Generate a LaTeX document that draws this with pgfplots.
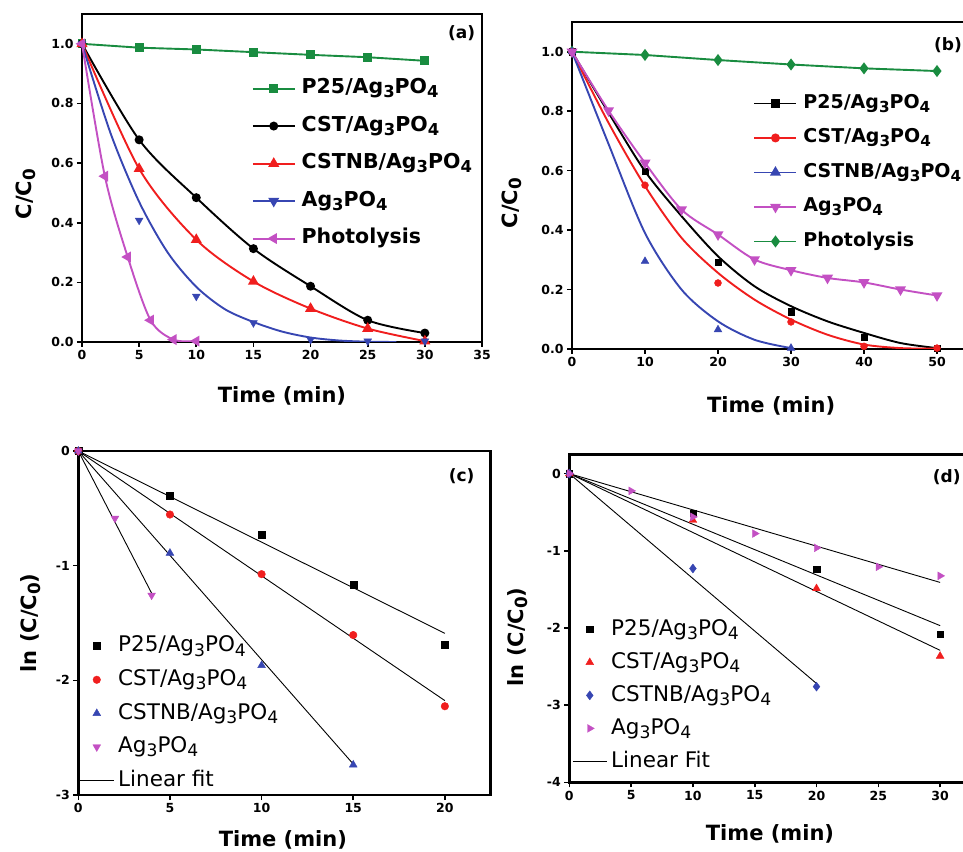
\documentclass[border=0pt]{standalone}
\usepackage{graphicx}
\usepackage{fontspec}
\setmainfont{DejaVu Sans}
\usepackage{pgfplots}
\pgfplotsset{compat=1.18}
\newcommand\sub[1]{\raisebox{-0.35ex}{\scalebox{0.8}{#1}}}
\newcommand\tickf{\bfseries\fontsize{12.5}{14}\selectfont}
\newcommand\labf{\bfseries\fontsize{21}{24}\selectfont}
\newcommand\legAf{\bfseries\fontsize{20.5}{22}\selectfont}
\newcommand\legBf{\bfseries\fontsize{19}{21}\selectfont}
\newcommand\legCf{\fontsize{21.5}{23}\selectfont}
\definecolor{cgreen}{RGB}{25,140,64}
\definecolor{cred}{RGB}{240,30,30}
\definecolor{cblue}{RGB}{55,70,178}
\definecolor{cmag}{RGB}{195,80,195}
\pgfplotsset{
  panel/.style={scale only axis, axis line style={line width=2.5pt}, tick style={line width=1.6pt, black},
    tick align=outside, major tick length=5pt, xtick pos=bottom, ytick pos=left,
    tick label style={font=\tickf}, /pgf/number format/assume math mode=true,
    clip mode=individual, legend cell align=left,
    every axis x label/.style={font=\labf, anchor=base},
    every axis y label/.style={font=\labf, rotate=90, anchor=center}},
  lineleg/.style={legend image code/.code={\draw[mark repeat=2,mark phase=2,##1] plot coordinates {(0pt,0pt) (21pt,0pt) (42pt,0pt)};}},
  markleg/.style={legend image code/.code={\draw[mark repeat=2,mark phase=2,##1] plot coordinates {(0pt,0pt) (17pt,0pt) (34pt,0pt)};}},
}
\begin{document}
\begin{tikzpicture}
\useasboundingbox (0,0) rectangle (963pt,851pt);
\clip (0,0) rectangle (963pt,851pt);
% ---------------- (a)
\begin{axis}[panel, lineleg, at={(82pt,509pt)}, anchor=south west, width=400pt, height=328pt,
  xmin=0, xmax=35, ymin=0, ymax=1.1, xtick={0,5,...,35}, ytick={0,0.2,...,1.0},
  yticklabel style={/pgf/number format/.cd, fixed, fixed zerofill, precision=1},
  xlabel={Time (min)}, ylabel={C/C\sub{0}},
  xlabel style={at={(axis description cs:0.5,-0.183)}},
  ylabel style={at={(axis description cs:-0.14,0.451)}},
  legend style={draw=none, fill=none, at={(axis description cs:0.424,0.803)}, anchor=north west,
    inner sep=0pt, row sep=18pt, column sep=6pt, font=\legAf,
    nodes={inner sep=0pt, text height=15pt, text depth=4.5pt}}]
\addplot[cgreen, line width=1.9pt, mark=square*, mark size=3.5pt, forget plot] coordinates {(0,1)(5,0.987)(10,0.981)(15,0.972)(20,0.963)(25,0.955)(30,0.943)};
\addplot[black, line width=1.9pt, smooth, mark=*, mark size=3.5pt, forget plot] coordinates {(0,1)(5,0.678)(10,0.484)(15,0.313)(20,0.187)(25,0.073)(30,0.030)};
\addplot[cred, line width=1.9pt, smooth, mark=triangle*, mark size=4.5pt, forget plot] coordinates {(0,1)(5,0.581)(10,0.343)(15,0.203)(20,0.112)(25,0.045)(30,0.003)};
\addplot[cblue, line width=1.9pt, smooth, forget plot] coordinates {(0,1)(2.5,0.70)(5,0.47)(7.5,0.30)(10,0.185)(12.5,0.11)(15,0.067)(17.5,0.035)(20,0.015)(22.5,0.005)(25,0.001)(27.5,0)};
\addplot[cblue, only marks, mark=triangle*, mark size=4.5pt, mark options={rotate=180}, forget plot] coordinates {(0,1)(5,0.408)(10,0.153)(15,0.064)(20,0.008)(25,0.003)(30,0.003)};
\addplot[cmag, line width=1.9pt, smooth, mark=triangle*, mark size=4.5pt, mark options={rotate=90}, forget plot] coordinates {(0,1)(2,0.556)(4,0.285)(6,0.073)(8,0.008)(10,0.003)};
\addlegendimage{cgreen, line width=1.9pt, mark=square*, mark size=3.5pt}
\addlegendentry{P25/Ag\sub{3}PO\sub{4}}
\addlegendimage{black, line width=1.9pt, mark=*, mark size=3.5pt}
\addlegendentry{CST/Ag\sub{3}PO\sub{4}}
\addlegendimage{cred, line width=1.9pt, mark=triangle*, mark size=4.5pt}
\addlegendentry{CSTNB/Ag\sub{3}PO\sub{4}}
\addlegendimage{cblue, line width=1.9pt, mark=triangle*, mark size=4.5pt, mark options={rotate=180}}
\addlegendentry{Ag\sub{3}PO\sub{4}}
\addlegendimage{cmag, line width=1.9pt, mark=triangle*, mark size=4.5pt, mark options={rotate=90}}
\addlegendentry{Photolysis}
\end{axis}
% ---------------- (b)
\begin{axis}[panel, lineleg, at={(572pt,502pt)}, anchor=south west, width=401.5pt, height=327pt,
  xmin=0, xmax=55, ymin=0, ymax=1.1, xtick={0,10,...,50}, ytick={0,0.2,...,1.0},
  yticklabel style={/pgf/number format/.cd, fixed, fixed zerofill, precision=1},
  xlabel={Time (min)}, ylabel={C/C\sub{0}},
  xlabel style={at={(axis description cs:0.496,-0.193)}},
  ylabel style={at={(axis description cs:-0.15,0.446)}},
  legend style={draw=none, fill=none, at={(axis description cs:0.4516,0.779)}, anchor=north west,
    inner sep=0pt, row sep=16.5pt, column sep=6pt, font=\legBf,
    nodes={inner sep=0pt, text height=14pt, text depth=4pt}}]
\addplot[cgreen, line width=1.9pt, mark=diamond*, mark size=4.5pt, forget plot] coordinates {(0,1)(10,0.989)(20,0.972)(30,0.957)(40,0.944)(50,0.935)};
\addplot[black, line width=1.9pt, smooth, forget plot] coordinates {(0,1)(5,0.795)(10,0.598)(15,0.447)(20,0.312)(25,0.211)(30,0.144)(35,0.093)(40,0.054)(45,0.02)(50,0.003)};
\addplot[black, only marks, mark=square*, mark size=3.2pt, forget plot] coordinates {(0,1)(10,0.598)(20,0.292)(30,0.125)(40,0.040)(50,0.003)};
\addplot[cred, line width=1.9pt, smooth, forget plot] coordinates {(0,1)(5,0.761)(10,0.548)(15,0.374)(20,0.256)(25,0.166)(30,0.099)(35,0.048)(40,0.015)(45,0.003)(50,0.001)};
\addplot[cred, only marks, mark=*, mark size=3.5pt, forget plot] coordinates {(0,1)(10,0.551)(20,0.222)(30,0.091)(40,0.009)(50,0.003)};
\addplot[cblue, line width=1.9pt, smooth, forget plot] coordinates {(0,1)(5,0.69)(10,0.39)(15,0.2)(20,0.093)(25,0.031)(30,0.003)};
\addplot[cblue, only marks, mark=triangle*, mark size=4.5pt, forget plot] coordinates {(0,1)(10,0.295)(20,0.065)(30,0.003)};
\addplot[cmag, line width=1.9pt, smooth, mark=triangle*, mark size=4.5pt, mark options={rotate=180}, forget plot] coordinates {(0,1)(5,0.802)(10,0.626)(15,0.469)(20,0.385)(25,0.301)(30,0.265)(35,0.239)(40,0.224)(45,0.200)(50,0.180)};
\addlegendimage{black, line width=1.9pt, mark=square*, mark size=3.2pt}
\addlegendentry{P25/Ag\sub{3}PO\sub{4}}
\addlegendimage{cred, line width=1.9pt, mark=*, mark size=3.5pt}
\addlegendentry{CST/Ag\sub{3}PO\sub{4}}
\addlegendimage{cblue, line width=1.9pt, mark=triangle*, mark size=4.5pt}
\addlegendentry{CSTNB/Ag\sub{3}PO\sub{4}}
\addlegendimage{cmag, line width=1.9pt, mark=triangle*, mark size=4.5pt, mark options={rotate=180}}
\addlegendentry{Ag\sub{3}PO\sub{4}}
\addlegendimage{cgreen, line width=1.9pt, mark=diamond*, mark size=4.5pt}
\addlegendentry{Photolysis}
\end{axis}
% ---------------- (c)
\begin{axis}[panel, markleg, at={(78.3pt,56pt)}, anchor=south west, width=412.4pt, height=344pt,
  xmin=0, xmax=22.5, ymin=-3, ymax=0, xtick={0,5,...,20}, ytick={-3,-2,-1,0},
  xlabel={Time (min)}, ylabel={ln (C/C\sub{0})},
  xlabel style={at={(axis description cs:0.496,-0.15)}},
  ylabel style={at={(axis description cs:-0.115,0.5)}},
  legend style={draw=none, fill=none, at={(axis description cs:0.002,0.463)}, anchor=north west,
    inner sep=0pt, row sep=13.1pt, column sep=4pt, font=\legCf,
    nodes={inner sep=0pt, text height=16pt, text depth=4.5pt}}]
\addplot[black, line width=0.9pt, forget plot] coordinates {(0,0)(20,-1.59)};
\addplot[black, line width=0.9pt, forget plot] coordinates {(0,0)(20,-2.177)};
\addplot[black, line width=0.9pt, forget plot] coordinates {(0,0)(15,-2.73)};
\addplot[black, line width=0.9pt, forget plot] coordinates {(0,0)(4,-1.24)};
\addplot[black, only marks, mark=square*, mark size=3.5pt] coordinates {(0,0)(5,-0.388)(10,-0.73)(15,-1.17)(20,-1.69)};
\addlegendentry{P25/Ag\sub{3}PO\sub{4}}
\addplot[cred, only marks, mark=*, mark size=3.8pt] coordinates {(0,0)(5,-0.554)(10,-1.074)(15,-1.605)(20,-2.226)};
\addlegendentry{CST/Ag\sub{3}PO\sub{4}}
\addplot[cblue, only marks, mark=triangle*, mark size=4.5pt] coordinates {(0,0)(5,-0.89)(10,-1.87)(15,-2.737)};
\addlegendentry{CSTNB/Ag\sub{3}PO\sub{4}}
\addplot[cmag, only marks, mark=triangle*, mark size=4.5pt, mark options={rotate=180}] coordinates {(0,0)(2,-0.587)(4,-1.258)};
\addlegendentry{Ag\sub{3}PO\sub{4}}
\addlegendimage{black, line width=0.9pt}
\addlegendentry{Linear fit}
\end{axis}
% ---------------- (d)
\begin{axis}[panel, markleg, at={(569.3pt,68.7pt)}, anchor=south west, width=401.7pt, height=328pt,
  xmin=0, xmax=32.5, ymin=-4, ymax=0.25, xtick={0,5,...,30}, ytick={-4,-3,-2,-1,0},
  xlabel={Time (min)}, ylabel={ln (C/C\sub{0})},
  xlabel style={at={(axis description cs:0.4996,-0.178)}},
  ylabel style={at={(axis description cs:-0.128,0.443)}},
  legend style={draw=none, fill=none, at={(axis description cs:0.007,0.498)}, anchor=north west,
    inner sep=0pt, row sep=12.5pt, column sep=4pt, font=\legCf,
    nodes={inner sep=0pt, text height=16pt, text depth=4.5pt}}]
\addplot[black, line width=0.9pt, forget plot] coordinates {(0,0)(30,-1.97)};
\addplot[black, line width=0.9pt, forget plot] coordinates {(0,0)(30,-2.29)};
\addplot[black, line width=0.9pt, forget plot] coordinates {(0,0)(20,-2.72)};
\addplot[black, line width=0.9pt, forget plot] coordinates {(0,0)(30,-1.41)};
\addplot[black, only marks, mark=square*, mark size=3.2pt] coordinates {(0,0)(10,-0.51)(20,-1.238)(30,-2.084)};
\addlegendentry{P25/Ag\sub{3}PO\sub{4}}
\addplot[cred, only marks, mark=triangle*, mark size=4.5pt] coordinates {(0,0)(10,-0.604)(20,-1.489)(30,-2.365)};
\addlegendentry{CST/Ag\sub{3}PO\sub{4}}
\addplot[cblue, only marks, mark=diamond*, mark size=4.5pt] coordinates {(0,0)(10,-1.23)(20,-2.76)};
\addlegendentry{CSTNB/Ag\sub{3}PO\sub{4}}
\addplot[cmag, only marks, mark=triangle*, mark size=4.5pt, mark options={rotate=-90}] coordinates {(0,0)(5,-0.224)(10,-0.561)(15,-0.777)(20,-0.962)(25,-1.208)(30,-1.325)};
\addlegendentry{Ag\sub{3}PO\sub{4}}
\addlegendimage{black, line width=0.9pt}
\addlegendentry{Linear Fit}
\end{axis}
\node[font=\bfseries\fontsize{17}{19}\selectfont] at (461.7pt,818pt) {(a)};
\node[font=\bfseries\fontsize{17}{19}\selectfont] at (948pt,806pt) {(b)};
\node[font=\bfseries\fontsize{17}{19}\selectfont] at (461.7pt,375pt) {(c)};
\node[font=\bfseries\fontsize{17}{19}\selectfont] at (946.7pt,374pt) {(d)};
\end{tikzpicture}
\end{document}
